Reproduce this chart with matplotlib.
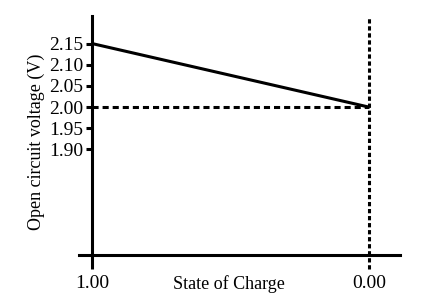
import numpy as np
import matplotlib
matplotlib.use("Agg")
import matplotlib.pyplot as plt

# state of charge vs open circuit voltage
soc = [1.00, 0.00]
ocv = [2.15, 2.00]
yticks = [1.90, 1.95, 2.00, 2.05, 2.10, 2.15]
xticks = [1.00, 0.00]

plt.rcParams['font.family'] = ['Liberation Serif', 'DejaVu Serif']

W, H = 431, 308
fig = plt.figure(figsize=(W/100., H/100.), dpi=100)
ax = fig.add_axes([79./W, (H-255.)/H, (400.-79.)/W, (255.-16.)/H])

ax.set_xlim(1.047, -0.112)
ax.set_ylim(1.651, 2.215)

lw = 2.2
ax.plot(soc, ocv, color='k', lw=lw, solid_capstyle='butt')
ax.plot([1.0, 0.0], [2.0, 2.0], color='k', lw=lw, dashes=(2.0, 1.3))
ax.plot([0.0, 0.0], [1.617, 2.21], color='k', lw=lw, dashes=(1.4, 0.9), clip_on=False)

for s in ['top', 'right']:
    ax.spines[s].set_visible(False)
ax.spines['left'].set_position(('data', 1.0))
ax.spines['left'].set_linewidth(lw)
ax.spines['bottom'].set_linewidth(lw)

ax.set_yticks(yticks)
ax.set_yticklabels(["%.2f" % v for v in yticks], fontsize=14)
ax.set_xticks(xticks)
ax.set_xticklabels(["%.2f" % v for v in xticks], fontsize=14)
ax.tick_params(axis='y', direction='out', length=4.5, width=lw, pad=2)
ax.tick_params(axis='x', direction='out', length=10, width=lw, pad=4.5)
ax.xaxis.get_major_ticks()[1].tick1line.set_visible(False)

ax.set_ylabel("Open circuit voltage (V)", fontsize=13)
ax.yaxis.set_label_coords(-0.107, 0.475)
ax.text(0.467, -0.12, "State of Charge", fontsize=13, ha='center', va='center',
        transform=ax.transAxes)

fig.savefig("out.png", dpi=100)
